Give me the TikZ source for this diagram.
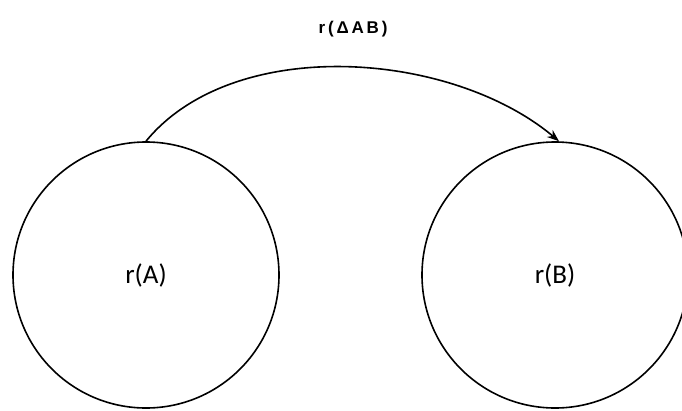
\documentclass[tikz,border=0pt]{standalone}
\usepackage{fontspec}
\setmainfont{Carlito}
\newfontfamily\labelfont{Liberation Sans}
\usetikzlibrary{arrows.meta}
\begin{document}
\begin{tikzpicture}[x=1pt,y=-1pt,
  setcircle/.style={circle,draw=black,line width=1.6pt,inner sep=0pt,minimum size=266pt,font=\fontsize{27}{31}\selectfont},
  maparrow/.style={line width=1.6pt,-{Stealth[length=12pt,width=9pt]}},
  toplabel/.style={font=\labelfont\bfseries\fontsize{17}{19}\selectfont}]
\useasboundingbox (0,0) rectangle (682,410);
\fill[white] (0,0) rectangle (682,410);
\node[setcircle] (A) at (146,275) {r(A)};
\node[setcircle] (B) at (555,275) {r(B)};
\draw[maparrow] (A.north) .. controls (233,35) and (450,50) .. ([xshift=4pt]B.north);
\node[toplabel] (L) at (353,29) {r\,(\,Δ\,A\,B\,)};
\end{tikzpicture}
\end{document}
